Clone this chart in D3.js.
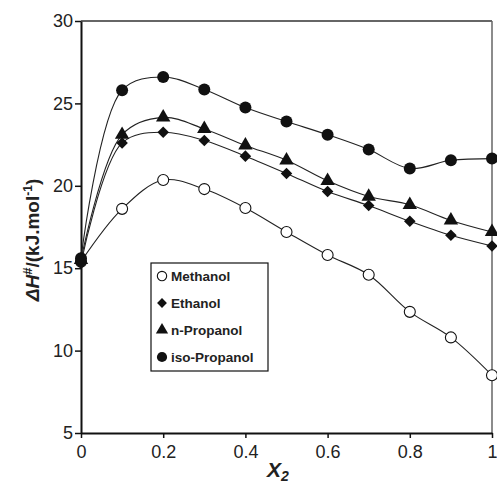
<!DOCTYPE html>
<html>
<head>
<meta charset="utf-8">
<script src="https://cdn.jsdelivr.net/npm/d3@7"></script>
<style>
  body { margin: 0; background: #fff; }
  svg { font-family: "Liberation Sans", Arial, sans-serif; }
</style>
</head>
<body>
<div id="chart"></div>
<script>
// mole fraction of alcohol
const xValues = [0, 0.1, 0.2, 0.3, 0.4, 0.5, 0.6, 0.7, 0.8, 0.9, 1.0];

// activation enthalpy, kJ/mol
const methanol = [15.4, 18.6, 20.35, 19.8, 18.65, 17.2, 15.8, 14.6, 12.35, 10.8, 8.5];
const ethanol = [15.3, 22.6, 23.25, 22.75, 21.8, 20.75, 19.65, 18.8, 17.85, 17.0, 16.35];
const nPropanol = [15.5, 23.1, 24.15, 23.45, 22.45, 21.55, 20.3, 19.35, 18.85, 17.9, 17.2];
const isoPropanol = [15.6, 25.8, 26.6, 25.85, 24.75, 23.9, 23.1, 22.2, 21.05, 21.55, 21.65];

const seriesNames = ["Methanol", "Ethanol", "n-Propanol", "iso-Propanol"];
const seriesValues = [methanol, ethanol, nPropanol, isoPropanol];
const xTicks = [0, 0.2, 0.4, 0.6, 0.8, 1];
const yTicks = [5, 10, 15, 20, 25, 30];

const svgWidth = 497, svgHeight = 483;
const margin = { top: 21, right: 5, bottom: 50, left: 81 };
const width = 492 - margin.left;
const height = 433 - margin.top;

const svg = d3.select("#chart").append("svg")
  .attr("width", svgWidth)
  .attr("height", svgHeight);

const g = svg.append("g")
  .attr("transform", `translate(${margin.left},${margin.top})`);

const xScale = d3.scaleLinear().domain([0, 1]).range([0, width]);
const yScale = d3.scaleLinear().domain([5, 30]).range([height, 0]);

// frame on top and right
g.append("line").attr("x1", 0).attr("x2", width).attr("y1", 0).attr("y2", 0)
  .attr("stroke", "#333").attr("stroke-width", 1.5);
g.append("line").attr("x1", width).attr("x2", width).attr("y1", 0).attr("y2", height)
  .attr("stroke", "#666").attr("stroke-width", 1.5);

// axes
const xAxis = g.append("g")
  .attr("transform", `translate(0,${height})`)
  .call(d3.axisBottom(xScale).tickValues(xTicks).tickSize(5).tickSizeOuter(0)
    .tickFormat(d => d3.format("")(d)));
const yAxis = g.append("g")
  .call(d3.axisLeft(yScale).tickValues(yTicks).tickSize(6).tickSizeOuter(0));

[xAxis, yAxis].forEach(a => {
  a.select(".domain").attr("stroke", "#111").attr("stroke-width", 2);
  a.selectAll(".tick line").attr("stroke", "#111").attr("stroke-width", 1.5);
  a.selectAll(".tick text")
    .attr("font-size", "18px")
    .attr("fill", "#222")
    .attr("font-family", "'Liberation Sans', Arial, sans-serif");
});
xAxis.selectAll(".tick text").attr("dy", "0.95em");
yAxis.selectAll(".tick text").attr("dx", "0.05em");

// fit lines
const line = d3.line()
  .x((d, i) => xScale(xValues[i]))
  .y(d => yScale(d))
  .curve(d3.curveCatmullRom.alpha(0.5));

seriesValues.forEach(vals => {
  g.append("path")
    .attr("d", line(vals))
    .attr("fill", "none")
    .attr("stroke", "#222")
    .attr("stroke-width", 1.1);
});

// markers
function drawMarker(sel, k, cx, cy, s) {
  s = s || 1;
  if (k === 0) {
    sel.append("circle").attr("cx", cx).attr("cy", cy).attr("r", 5.5 * s)
      .attr("fill", "#fff").attr("stroke", "#111").attr("stroke-width", 1.1);
  } else if (k === 1) {
    sel.append("path")
      .attr("d", d3.symbol(d3.symbolDiamond2, 85 * s * s)())
      .attr("transform", `translate(${cx},${cy})`)
      .attr("fill", "#111");
  } else if (k === 2) {
    sel.append("path")
      .attr("d", d3.symbol(d3.symbolTriangle, 90 * s * s)())
      .attr("transform", `translate(${cx},${cy})`)
      .attr("fill", "#111");
  } else {
    sel.append("circle").attr("cx", cx).attr("cy", cy).attr("r", 6 * s)
      .attr("fill", "#111");
  }
}

seriesValues.forEach((vals, k) => {
  const grp = g.append("g");
  vals.forEach((v, i) => drawMarker(grp, k, xScale(xValues[i]), yScale(v)));
});

// legend
const legX = 151 - margin.left, legY = 263 - margin.top;
const leg = g.append("g").attr("transform", `translate(${legX},${legY})`);
leg.append("rect")
  .attr("width", 117).attr("height", 108)
  .attr("fill", "#fff").attr("stroke", "#111").attr("stroke-width", 1.2);
seriesNames.forEach((name, k) => {
  const yy = 13 + k * 27;
  drawMarker(leg, k, 11, yy, 0.85);
  leg.append("text")
    .attr("x", 20).attr("y", yy)
    .attr("dy", "0.35em")
    .attr("font-size", "13.5px")
    .attr("font-weight", "bold")
    .attr("fill", "#222")
    .text(name);
});

// axis titles
const yLabel = svg.append("text")
  .attr("transform", `translate(39,${240}) rotate(-90)`)
  .attr("text-anchor", "middle")
  .attr("font-size", "19px")
  .attr("font-weight", "bold")
  .attr("fill", "#222");
yLabel.append("tspan").attr("font-style", "italic").text("ΔH");
yLabel.append("tspan").attr("font-size", "13px").attr("dy", "-7").text("#");
yLabel.append("tspan").attr("dy", "7").text("/(kJ.mol");
yLabel.append("tspan").attr("font-size", "12px").attr("dy", "-7").text("-1");
yLabel.append("tspan").attr("dy", "7").text(")");

const xLabel = svg.append("text")
  .attr("x", 278).attr("y", 477)
  .attr("text-anchor", "middle")
  .attr("font-size", "21px")
  .attr("font-weight", "bold")
  .attr("font-style", "italic")
  .attr("fill", "#222");
xLabel.append("tspan").text("X");
xLabel.append("tspan").attr("font-size", "14px").attr("dy", "4").text("2");
</script>
</body>
</html>
